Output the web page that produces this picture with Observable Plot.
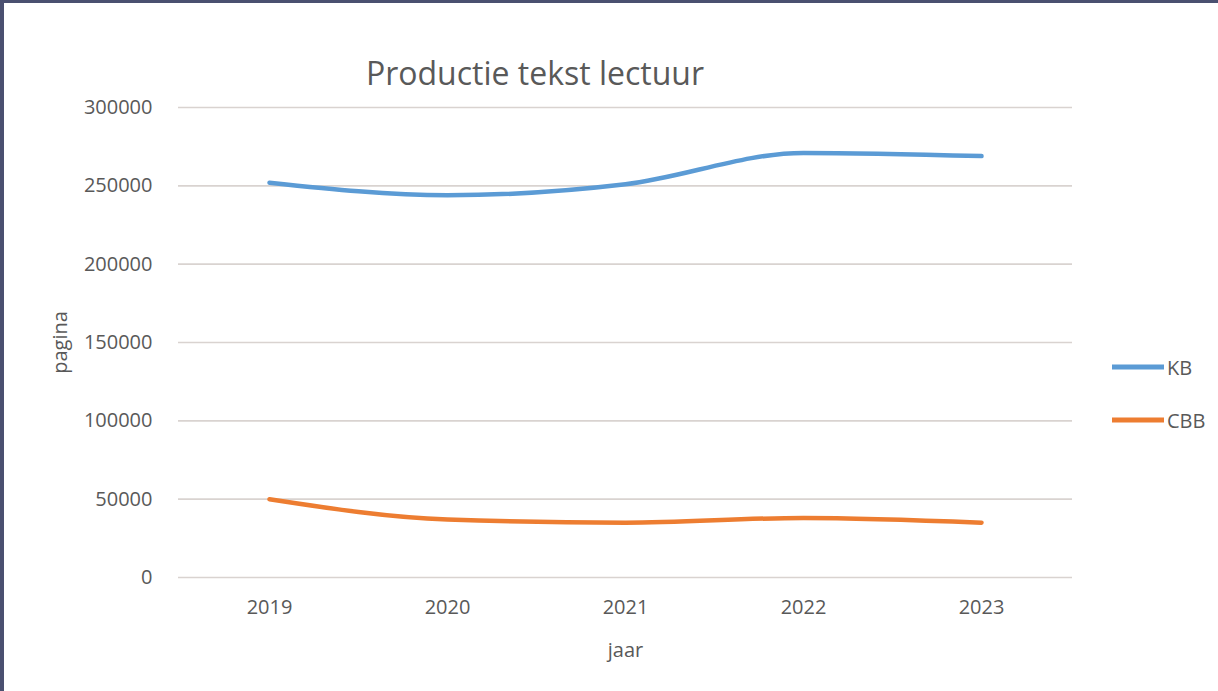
<!DOCTYPE html>
<html><head><meta charset="utf-8">
<script src="https://cdn.jsdelivr.net/npm/d3@7"></script>
<script src="https://cdn.jsdelivr.net/npm/@observablehq/plot@0.6"></script>
<style>
body{margin:0;background:#fff;}
#wrap{position:relative;width:1218px;height:691px;overflow:hidden;font-family:"Open Sans",sans-serif;color:#595959;background:#fff;}
#frame{position:absolute;left:0;top:0;width:1218px;height:691px;border-top:3px solid #4a5070;border-left:4px solid #4a5070;box-sizing:border-box;pointer-events:none;}
#title{position:absolute;top:51px;left:535px;transform:translateX(-50%);font-size:32px;white-space:nowrap;color:#595959;}
.legend{position:absolute;left:1112px;display:flex;align-items:center;font-size:20px;color:#595959;transform:translateY(-50%);}
.legend .sw{display:inline-block;width:52px;height:5px;margin-right:3px;}
</style></head>
<body>
<div id="wrap"><div id="chart"></div><div id="title"></div><div id="frame"></div></div>
<script>
const title = "Productie tekst lectuur";
const xLabel = "jaar";
const yLabel = "pagina";
const years = ["2019", "2020", "2021", "2022", "2023"];
const seriesNames = ["KB", "CBB"];
const kbValues = [252000, 244000, 251000, 271000, 269000];
const cbbValues = [50000, 37000, 35000, 38000, 35000];
const yTicks = [0, 50000, 100000, 150000, 200000, 250000, 300000];
const colors = ["#5B9BD5", "#ED7D31"];

const rows = [];
years.forEach((y, i) => {
  rows.push({year: y, series: seriesNames[0], value: kbValues[i]});
  rows.push({year: y, series: seriesNames[1], value: cbbValues[i]});
});

const chart = Plot.plot({
  width: 1218,
  height: 691,
  marginLeft: 178,
  marginRight: 146,
  marginTop: 107,
  marginBottom: 114,
  style: {fontFamily: "'Open Sans', sans-serif", fontSize: "20px", color: "#595959", background: "transparent"},
  x: {type: "point", domain: years, padding: 0.5},
  y: {domain: [0, 300000]},
  color: {domain: seriesNames, range: colors},
  marks: [
    Plot.gridY(yTicks, {stroke: "#d9d3d0", strokeOpacity: 1, strokeWidth: 1.6}),
    Plot.axisY(yTicks, {tickSize: 0, tickPadding: 26, tickFormat: d => String(d), label: yLabel, labelAnchor: "center", labelArrow: "none", labelOffset: 126, fontSize: 20}),
    Plot.axisX({tickSize: 0, tickPadding: 22, label: xLabel, labelAnchor: "center", labelArrow: "none", labelOffset: 79, fontSize: 20}),
    Plot.line(rows, {x: "year", y: "value", z: "series", stroke: "series", strokeWidth: 4.5, curve: "monotone-x"})
  ]
});
document.getElementById("chart").appendChild(chart);
document.getElementById("title").textContent = title;

const legendY = [367, 420];
seriesNames.forEach((name, i) => {
  const d = document.createElement("div");
  d.className = "legend";
  d.style.top = legendY[i] + "px";
  const sw = document.createElement("span");
  sw.className = "sw";
  sw.style.background = colors[i];
  const t = document.createElement("span");
  t.textContent = name;
  d.appendChild(sw); d.appendChild(t);
  document.getElementById("wrap").appendChild(d);
});
</script>
</body></html>
